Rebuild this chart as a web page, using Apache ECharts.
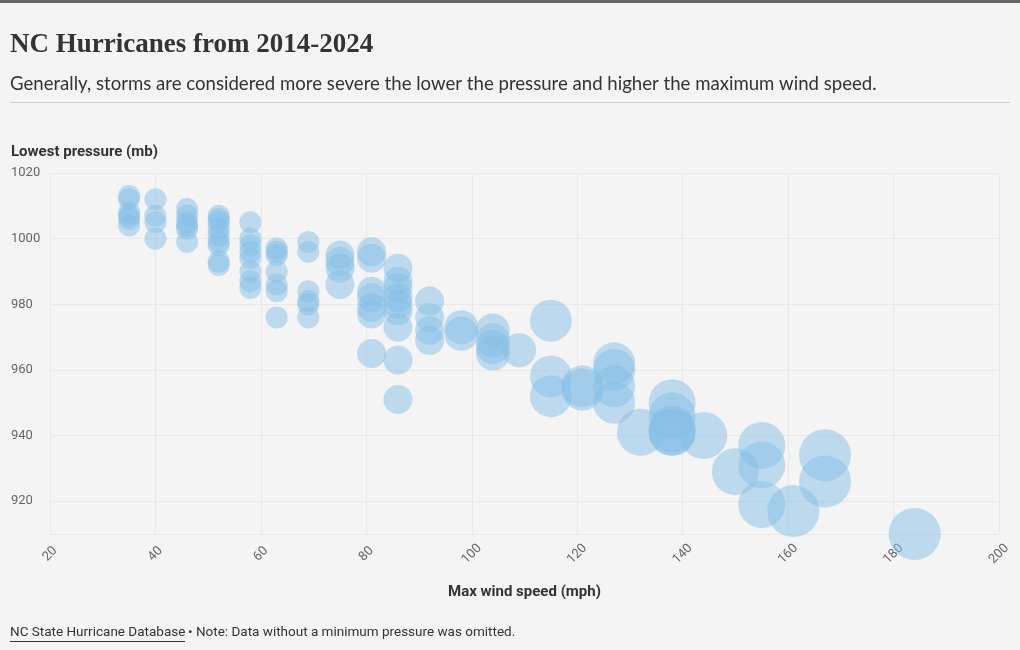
<!DOCTYPE html>
<html>
<head>
<meta charset="utf-8">
<script src="https://cdn.jsdelivr.net/npm/echarts@6/dist/echarts.min.js"></script>
<style>
html,body{margin:0;padding:0;background:#f4f4f4;}
#chart{width:1020px;height:650px;}
</style>
</head>
<body>
<div id="chart"></div>
<script>
// Max wind speed (mph) groups and the lowest pressures (mb) observed at each
const windSpeeds = [35, 40, 46, 52, 58, 63, 69, 75, 81, 86, 92, 98, 104, 109, 115, 121, 127, 132, 138, 144, 150, 155, 161, 167, 184];
const pressures = [
  [1013, 1012, 1008, 1007, 1006, 1004],
  [1012, 1007, 1005, 1000],
  [1009, 1007, 1005, 1004, 1003, 999],
  [1007, 1006, 1005, 1003, 1001, 999, 998, 993, 992],
  [1005, 1000, 998, 996, 994, 990, 987, 985],
  [997, 996, 995, 990, 986, 984, 976],
  [999, 996, 984, 981, 980, 976],
  [995, 993, 991, 986],
  [996, 994, 984, 982, 979, 977, 965],
  [991, 987, 985, 982, 980, 978, 973, 963, 951],
  [981, 976, 972, 969],
  [973, 971],
  [972, 969, 967, 965],
  [966],
  [975, 958, 952],
  [955, 954],
  [962, 960, 955, 950],
  [941],
  [950, 946, 942, 941, 941],
  [940],
  [929],
  [937, 931, 919],
  [917],
  [934, 926],
  [910]
];
const xTicks = [20, 40, 60, 80, 100, 120, 140, 160, 180, 200];
const yTicks = [920, 940, 960, 980, 1000, 1020];

const points = [];
windSpeeds.forEach((w, i) => pressures[i].forEach(p => points.push([w, p])));

function bubbleSize(v) {
  const w = v[0];
  if (w <= 73) return 22;
  if (w <= 95) return 29;
  if (w <= 110) return 34;
  if (w <= 129) return 42;
  if (w <= 156) return 47;
  return 52;
}

const labelFont = 'Roboto, "Liberation Sans", sans-serif';
const chart = echarts.init(document.getElementById('chart'), null, {renderer: 'canvas'});
chart.setOption({
  backgroundColor: '#f4f4f4',
  animation: false,
  graphic: [
    {type: 'rect', shape: {x: 0, y: 0, width: 1020, height: 3}, style: {fill: '#666666'}},
    {type: 'text', left: 10, top: 32, style: {text: 'NC Hurricanes from 2014-2024', font: 'bold 27px "Liberation Serif", "DejaVu Serif", serif', fill: '#333333'}},
    {type: 'text', left: 10, top: 74, style: {text: 'Generally, storms are considered more severe the lower the pressure and higher the maximum wind speed.', font: '18.6px Lato, "Noto Sans", sans-serif', fill: '#333333'}},
    {type: 'rect', shape: {x: 10, y: 102, width: 1000, height: 1}, style: {fill: '#d0d0d0'}},
    {type: 'text', left: 11, top: 145, style: {text: 'Lowest pressure (mb)', font: 'bold 15px ' + labelFont, fill: '#333333'}},
    {type: 'text', left: 10, top: 626, style: {text: 'NC State Hurricane Database', font: '13.5px ' + labelFont, fill: '#333333'}},
    {type: 'rect', shape: {x: 10, y: 641, width: 175, height: 1}, style: {fill: '#333333'}},
    {type: 'text', left: 188, top: 626, style: {text: '• Note: Data without a minimum pressure was omitted.', font: '13.5px ' + labelFont, fill: '#333333'}}
  ],
  grid: {left: 50, right: 21, top: 173, bottom: 116},
  xAxis: {
    type: 'value', min: 20, max: 200, interval: 20,
    name: 'Max wind speed (mph)', nameLocation: 'middle', nameGap: 51,
    nameTextStyle: {fontFamily: labelFont, fontWeight: 'bold', fontSize: 15, color: '#333333'},
    axisLine: {show: false}, axisTick: {show: false},
    axisLabel: {rotate: 45, align: 'center', verticalAlign: 'middle', fontFamily: labelFont, fontSize: 13, color: '#666666', margin: 20,
      formatter: v => xTicks.includes(v) ? String(v) : ''},
    splitLine: {show: true, lineStyle: {color: '#e8e8e8', width: 1}}
  },
  yAxis: {
    type: 'value', min: 910, max: 1020,
    axisLine: {show: false}, axisTick: {show: false},
    axisLabel: {showMinLabel: false, fontFamily: labelFont, fontSize: 13, color: '#666666', align: 'left', margin: 39,
      formatter: v => yTicks.includes(v) ? String(v) : ''},
    splitLine: {show: true, lineStyle: {color: '#e8e8e8', width: 1}}
  },
  series: [{
    type: 'scatter',
    data: points,
    symbolSize: bubbleSize,
    itemStyle: {color: 'rgba(133,191,230,0.62)'}
  }]
});
</script>
</body>
</html>
